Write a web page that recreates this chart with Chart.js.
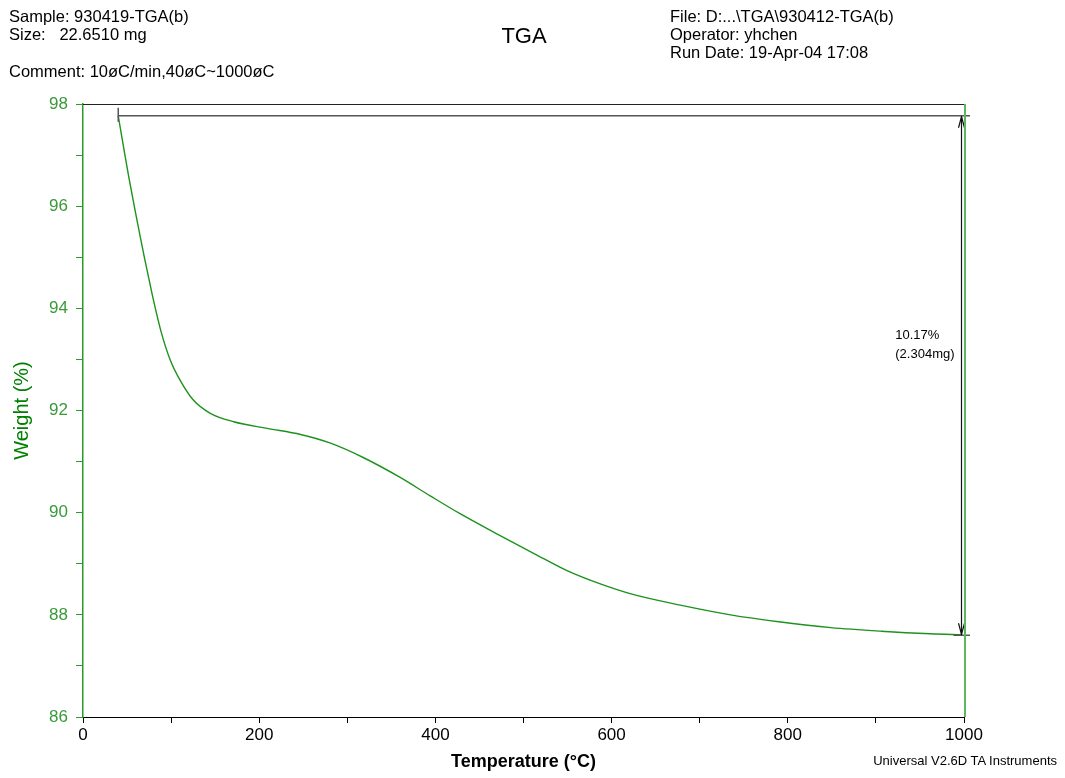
<!DOCTYPE html>
<html>
<head>
<meta charset="utf-8">
<title>TGA</title>
<script src="https://cdn.jsdelivr.net/npm/chart.js@4.4.1/dist/chart.umd.min.js"></script>
<style>
  body { margin: 0; background: #fff; }
  #wrap { position: relative; width: 1065px; height: 778px; font-family: "Liberation Sans", Arial, sans-serif; color: #000; }
  #wrap canvas { position: absolute; left: 0; top: 0; }
  .txt { position: absolute; white-space: pre; font-size: 16.5px; line-height: 18px; }
  #title { left: 0; width: 1048px; text-align: center; top: 25px; font-size: 22px; line-height: 22px; }
  #footer { right: 8px; top: 754px; font-size: 13px; line-height: 13px; }
</style>
</head>
<body>
<div id="wrap">
  <canvas id="chart" width="1065" height="778"></canvas>
  <div class="txt" style="left:9px;top:7px">Sample: 930419-TGA(b)</div>
  <div class="txt" style="left:9px;top:25px">Size:   22.6510 mg</div>
  <div class="txt" style="left:9px;top:62px">Comment: 10øC/min,40øC~1000øC</div>
  <div class="txt" id="title">TGA</div>
  <div class="txt" style="left:670px;top:7px">File: D:...\TGA\930412-TGA(b)</div>
  <div class="txt" style="left:670px;top:25px">Operator: yhchen</div>
  <div class="txt" style="left:670px;top:43px">Run Date: 19-Apr-04 17:08</div>
  <div class="txt" id="footer">Universal V2.6D TA Instruments</div>
</div>
<script>
// temperature (°C) and weight (%)
const temperature = [40, 44, 48, 52, 56, 60, 65, 70, 75, 80, 89, 99, 110, 125, 144, 171, 209, 247, 281, 318, 360, 394, 428, 466, 512, 550, 588, 622, 678, 735, 792, 849, 906, 962, 998];
const weight = [97.77, 97.36, 96.96, 96.57, 96.2, 95.84, 95.4, 94.97, 94.56, 94.16, 93.52, 92.99, 92.6, 92.21, 91.95, 91.78, 91.65, 91.53, 91.36, 91.08, 90.69, 90.33, 89.98, 89.62, 89.2, 88.86, 88.6, 88.41, 88.19, 88.0, 87.86, 87.75, 87.68, 87.63, 87.61];

const xLabelTicks = [0, 200, 400, 600, 800, 1000];
const yLabelTicks = [86, 88, 90, 92, 94, 96, 98];

// step change annotation
const stepFrom = [40, 97.77];
const stepTo = [1000, 87.60];
const stepText = ['10.17%', '(2.304mg)'];
const stepTextAt = [922, 93.4];

const fontFamily = '"Liberation Sans", Arial, sans-serif';

const stepPlugin = {
  id: 'step',
  afterDatasetsDraw(chart) {
    const { ctx, chartArea: a, scales: { x, y } } = chart;
    const line = (x1, y1, x2, y2) => {
      ctx.beginPath();
      ctx.moveTo(x1, y1);
      ctx.lineTo(x2, y2);
      ctx.stroke();
    };
    ctx.save();
    // top frame
    ctx.strokeStyle = '#222';
    ctx.lineWidth = 1;
    line(a.left, a.top + 0.5, a.right + 1, a.top + 0.5);

    const x0 = x.getPixelForValue(stepFrom[0]);
    const yTop = y.getPixelForValue(stepFrom[1]);
    const yBot = y.getPixelForValue(stepTo[1]);
    const xa = a.right - 2.5;

    ctx.strokeStyle = '#555';
    ctx.lineWidth = 1.5;
    line(x0, yTop, a.right + 6, yTop);
    line(x0, yTop - 8, x0, yTop + 6);
    line(xa - 8, yBot, a.right + 6, yBot);

    ctx.strokeStyle = '#111';
    ctx.lineWidth = 1.2;
    line(xa, yTop, xa, yBot);
    line(xa, yTop + 1, xa - 3, yTop + 12);
    line(xa, yTop + 1, xa + 3, yTop + 12);
    line(xa, yBot - 1, xa - 3, yBot - 12);
    line(xa, yBot - 1, xa + 3, yBot - 12);

    // right frame
    ctx.strokeStyle = '#5cb85c';
    ctx.lineWidth = 2;
    line(a.right + 1, a.top, a.right + 1, a.bottom);

    ctx.fillStyle = '#000';
    ctx.font = '13px ' + fontFamily;
    ctx.textAlign = 'left';
    ctx.textBaseline = 'alphabetic';
    const tx = x.getPixelForValue(stepTextAt[0]);
    const ty = y.getPixelForValue(stepTextAt[1]);
    ctx.fillText(stepText[0], tx, ty);
    ctx.fillText(stepText[1], tx, ty + 19);
    ctx.restore();
  }
};

const points = temperature.map((t, i) => ({ x: t, y: weight[i] }));

new Chart(document.getElementById('chart'), {
  type: 'line',
  data: {
    datasets: [{
      data: points,
      borderColor: '#1d921d',
      borderWidth: 1.4,
      pointRadius: 0,
      cubicInterpolationMode: 'monotone',
      fill: false,
    }],
  },
  options: {
    responsive: false,
    animation: false,
    devicePixelRatio: 1,
    layout: { padding: { top: 104, right: 101, left: 0, bottom: 0 } },
    plugins: { legend: { display: false }, tooltip: { enabled: false }, title: { display: false } },
    scales: {
      x: {
        type: 'linear',
        min: 0,
        max: 1000,
        afterFit: (s) => { s.height = 61; },
        border: { color: '#000', width: 1 },
        grid: { drawOnChartArea: false, drawTicks: true, tickLength: 6, color: '#000' },
        ticks: {
          stepSize: 100,
          autoSkip: false,
          maxRotation: 0,
          padding: 2,
          color: '#000',
          font: { family: fontFamily, size: 17 },
          callback: (v) => xLabelTicks.includes(v) ? String(v) : '',
        },
        title: {
          display: true,
          text: 'Temperature (°C)',
          color: '#000',
          font: { family: fontFamily, size: 18, weight: 'bold' },
          padding: { top: 0, bottom: 5 },
        },
      },
      y: {
        min: 86,
        max: 98,
        afterFit: (s) => { s.width = 83; },
        border: { color: '#2a9a2a', width: 1.5 },
        grid: { drawOnChartArea: false, drawTicks: true, tickLength: 7, color: '#2a9a2a' },
        ticks: {
          stepSize: 1,
          autoSkip: false,
          padding: 8,
          color: '#3a9a3a',
          font: { family: fontFamily, size: 17 },
          callback: (v) => yLabelTicks.includes(v) ? String(v) : '',
        },
        title: {
          display: true,
          text: 'Weight (%)',
          color: '#008000',
          font: { family: fontFamily, size: 20 },
          padding: { top: 10, bottom: 0 },
        },
      },
    },
  },
  plugins: [stepPlugin],
});
</script>
</body>
</html>
